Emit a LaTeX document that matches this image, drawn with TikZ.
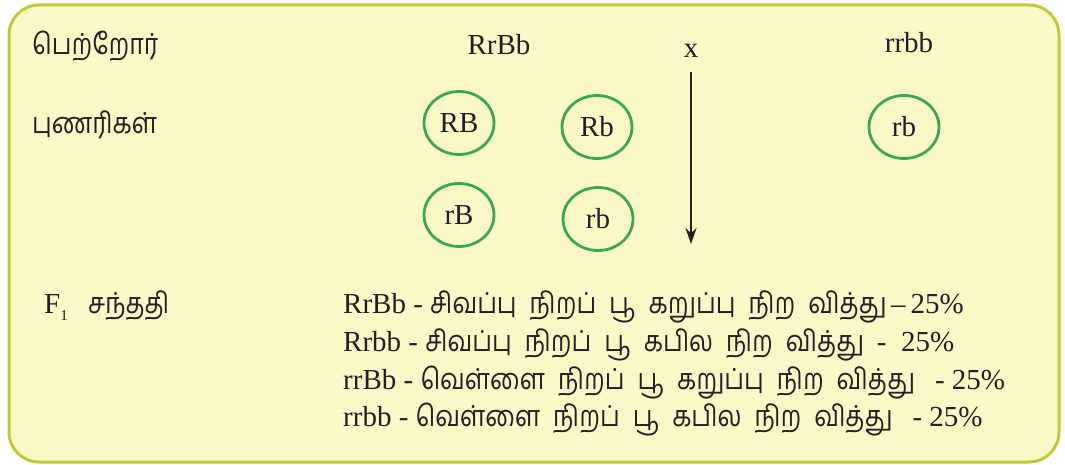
\documentclass[tikz,border=0pt]{standalone}
\usepackage{fontspec}
\setmainfont{Liberation Serif}
\newfontfamily\tafont[Script=Tamil,FakeStretch=0.86]{Hind Madurai}
\usepackage{xcolor}
\usetikzlibrary{arrows.meta,positioning,shapes.geometric}
\definecolor{boxfill}{RGB}{251,248,200}
\definecolor{boxline}{RGB}{193,202,52}
\definecolor{gamgreen}{RGB}{58,170,72}
\definecolor{inkgray}{RGB}{35,31,32}
\tikzset{
  % panel frame
  panel/.style={draw=boxline,fill=boxfill,line width=3pt,rounded corners=30pt},
  % plain text labels
  txt/.style={inner sep=0pt,anchor=base west,text=inkgray,font=\fontsize{29}{38}\selectfont},
  tam/.style={txt,font=\fontsize{29}{38}\selectfont\tafont},
  % gamete rings
  gamete/.style={ellipse,draw=gamgreen,line width=2.8pt,minimum width=70pt,minimum height=63pt,
    inner sep=0pt,text=inkgray,font=\fontsize{29}{38}\selectfont},
  % cross arrow
  crossarrow/.style={line width=2.3pt,inkgray,-{Stealth[length=16pt,width=11pt]}},
}
\newcommand{\gap}{\hspace{13pt}}
\newcommand{\ta}{\tafont\fontsize{29}{38}\selectfont}
\begin{document}
\begin{tikzpicture}[x=1pt,y=-1pt]
\useasboundingbox (0,0) rectangle (1065,465);
\draw[panel] (9,5) rectangle (1059,462);

%% ---- row labels ----
\node[tam] (parents) at (32,55)  {பெற்றோர்};
\node[tam] (gametes) at (32,134) {புணரிகள்};
\node[txt] (fone)    at (44,313) {F\raisebox{-7pt}{\fontsize{15}{15}\selectfont 1}};
\node[tam,right=20pt of fone.base east,anchor=base west] (progeny) {சந்ததி};

%% ---- parent genotypes ----
\node[txt,anchor=base] (pone)  at (499,55) {RrBb};
\node[txt,anchor=base] (cross) at (691,58) {x};
\node[txt,anchor=base] (ptwo)  at (909,53) {rrbb};

%% ---- gametes ----
\node[gamete] (gRB) at (459,123) {RB};
\node[gamete] (gRb) at (597,127) {Rb};
\node[gamete] (grB) at (459,215) {rB};
\node[gamete] (grb) at (598,219) {rb};
\node[gamete] (prb) at (904,127) {rb};

%% ---- cross arrow ----
\coordinate (atop) at (691,72);
\coordinate (abot) at (691,244);
\draw[crossarrow] (atop) -- (abot);

%% ---- F1 ratios ----
\node[txt] (fa) at (343,313) {RrBb - {\ta சிவப்பு\gap நிறப்\gap பூ\gap கறுப்பு\gap நிற\gap வித்து}\,--\,25\%};
\node[txt] (fb) at (343,351) {Rrbb - {\ta சிவப்பு\gap நிறப்\gap பூ\gap கபில\gap நிற\gap வித்து}\gap - \ 25\%};
\node[txt] (fc) at (343,389) {rrBb - {\ta வெள்ளை\gap நிறப்\gap பூ\gap கறுப்பு\gap நிற\gap வித்து}\gap\ - 25\%};
\node[txt] (fd) at (343,426) {rrbb - {\ta வெள்ளை\gap நிறப்\gap பூ\gap கபில\gap நிற\gap வித்து}\gap\ - 25\%};
\end{tikzpicture}
\end{document}
